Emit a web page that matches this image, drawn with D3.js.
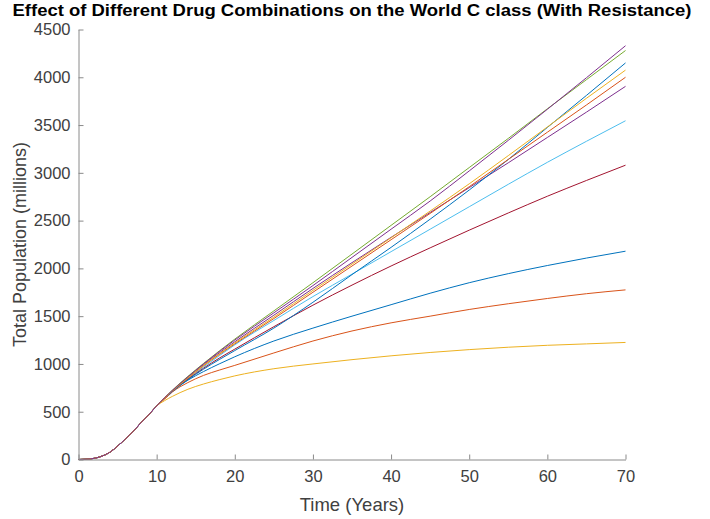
<!DOCTYPE html>
<html>
<head>
<meta charset="utf-8">
<script src="https://cdn.jsdelivr.net/npm/d3@7"></script>
<style>
  html, body { margin: 0; padding: 0; background: #fff; }
  svg { display: block; font-family: "Liberation Sans", Arial, Helvetica, sans-serif; }
</style>
</head>
<body>
<svg id="chart" width="710" height="519"></svg>
<script>
// Simulation time points (years)
const years = [0, 1, 2, 3, 4, 5, 6, 7, 8, 9, 10, 11, 12, 14, 16, 18, 20, 25, 30, 35, 40, 45, 50, 55, 60, 65, 70];

// Shared early growth phase (years 0..10), millions
const early = [0, 3, 12, 35, 75, 140, 215, 295, 385, 470, 560];

// Total population per drug combination, years 11..70 (millions)
const combo1  = [640, 715, 830, 920, 1000, 1075, 1240, 1375, 1500, 1620, 1740, 1850, 1945, 2030, 2108, 2180];
const combo2  = [630, 705, 805, 880, 935, 985, 1115, 1240, 1345, 1430, 1500, 1570, 1630, 1685, 1735, 1775];
const combo3  = [615, 660, 735, 790, 835, 875, 950, 1000, 1045, 1085, 1120, 1150, 1175, 1195, 1210, 1225];
const combo4  = [643, 720, 860, 992, 1115, 1232, 1510, 1790, 2060, 2325, 2585, 2845, 3105, 3370, 3635, 3905];
const combo5  = [645, 725, 870, 1005, 1135, 1260, 1555, 1850, 2150, 2450, 2750, 3055, 3360, 3670, 3975, 4280];
const combo6  = [640, 712, 845, 968, 1085, 1200, 1455, 1705, 1940, 2175, 2410, 2645, 2880, 3110, 3330, 3545];
const combo7  = [640, 712, 840, 955, 1060, 1155, 1390, 1615, 1825, 2025, 2215, 2400, 2580, 2755, 2920, 3080];
const combo8  = [640, 710, 835, 945, 1045, 1140, 1375, 1645, 1935, 2220, 2515, 2820, 3140, 3475, 3810, 4150];
const combo9  = [642, 716, 852, 980, 1098, 1210, 1475, 1750, 2025, 2300, 2575, 2855, 3140, 3425, 3710, 4000];
const combo10 = [642, 718, 855, 985, 1105, 1220, 1490, 1770, 2045, 2320, 2600, 2885, 3180, 3480, 3780, 4075];
const combo11 = [645, 722, 865, 1000, 1128, 1250, 1535, 1820, 2115, 2410, 2705, 3020, 3340, 3665, 3995, 4330];

const seriesList = [combo1, combo2, combo3, combo4, combo5, combo6, combo7, combo8, combo9, combo10, combo11];

// Default colour cycle
const palette = ["#0072BD", "#D95319", "#EDB120", "#7E2F8E", "#77AC30", "#4DBEEE", "#A2142F"];

const xTicks = [0, 10, 20, 30, 40, 50, 60, 70];
const yTicks = [0, 500, 1000, 1500, 2000, 2500, 3000, 3500, 4000, 4500];

const titleText = "Effect of Different Drug Combinations on the World C class (With Resistance)";
const xLabel = "Time (Years)";
const yLabel = "Total Population (millions)";

const svg = d3.select("#chart");
const plotLeft = 78.5, plotRight = 625.5, plotTop = 29.5, plotBottom = 459.5;

const x = d3.scaleLinear().domain([0, 70]).range([plotLeft, plotRight]);
const y = d3.scaleLinear().domain([0, 4500]).range([plotBottom, plotTop]);

const axisColor = "#8a8a8a";
const textColor = "#404040";

// Lines
const line = d3.line()
  .x(d => x(d[0]))
  .y(d => y(d[1]))
  .curve(d3.curveMonotoneX);

seriesList.forEach((vals, i) => {
  const full = early.concat(vals);
  const pts = years.map((t, j) => [t, full[j]]);
  svg.append("path")
    .datum(pts)
    .attr("fill", "none")
    .attr("stroke", palette[i % palette.length])
    .attr("stroke-width", 1)
    .attr("d", line);
});

// Axes (ticks pointing inward)
const plain = d3.format("d");
const gx = svg.append("g")
  .attr("transform", `translate(0,${plotBottom})`)
  .call(d3.axisBottom(x).tickValues(xTicks).tickFormat(plain)
    .tickSizeInner(-5).tickSizeOuter(0).tickPadding(11));
const gy = svg.append("g")
  .attr("transform", `translate(${plotLeft},0)`)
  .call(d3.axisLeft(y).tickValues(yTicks).tickFormat(plain)
    .tickSizeInner(-5).tickSizeOuter(0).tickPadding(8));

[gx, gy].forEach(g => {
  g.select(".domain").attr("stroke", axisColor);
  g.selectAll(".tick line").attr("stroke", axisColor);
  g.selectAll(".tick text")
    .attr("fill", textColor)
    .style("font-size", "16.5px")
    .style("font-family", '"Liberation Sans", Arial, sans-serif');
});

// Title
svg.append("text")
  .attr("x", (plotLeft + plotRight) / 2)
  .attr("y", 16)
  .attr("text-anchor", "middle")
  .attr("textLength", 679)
  .attr("lengthAdjust", "spacingAndGlyphs")
  .style("font-size", "16px")
  .style("font-weight", "bold")
  .attr("fill", "#000")
  .text(titleText);

// Axis labels
svg.append("text")
  .attr("x", (plotLeft + plotRight) / 2)
  .attr("y", 511)
  .attr("text-anchor", "middle")
  .style("font-size", "18.5px")
  .attr("fill", textColor)
  .text(xLabel);

svg.append("text")
  .attr("transform", `translate(26,${(plotTop + plotBottom) / 2}) rotate(-90)`)
  .attr("text-anchor", "middle")
  .style("font-size", "18px")
  .attr("fill", textColor)
  .text(yLabel);
</script>
</body>
</html>
